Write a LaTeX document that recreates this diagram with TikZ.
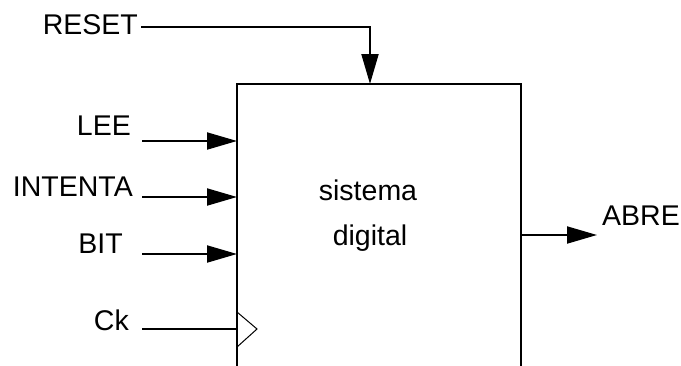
\documentclass[tikz,border=0pt]{standalone}
\usepackage{fontspec}
\setmainfont{Liberation Sans}
\usetikzlibrary{arrows.meta}
\begin{document}
\begin{tikzpicture}[x=1pt,y=-1pt,
 lbl/.style={inner sep=0pt,font=\fontsize{28.5}{34}\selectfont},
 wire/.style={line width=2pt},
 sig/.style={wire,-{Triangle[length=30pt,width=17pt]}},
 clk/.style={line width=1pt,line join=miter}]
\useasboundingbox (0,0) rectangle (681,365);
% system box (open at the bottom, cut by the picture edge)
\coordinate (bl) at (237,367);
\coordinate (tl) at (237,84);
\coordinate (tr) at (521,84);
\coordinate (br) at (521,367);
\draw[wire] (bl) -- (tl) -- (tr) -- (br);
\node[lbl,anchor=base] (sys1) at (368,200) {sistema};
\node[lbl,anchor=base] (sys2) at (370,245) {digital};
% RESET
\node[lbl,anchor=base east] (reset) at (138,34) {RESET};
\coordinate (reset-in) at (141,27);
\coordinate (reset-pin) at (370,84);
\draw[sig] (reset-in) -| (reset-pin);
% LEE
\node[lbl,anchor=base east] (lee) at (131,135) {LEE};
\coordinate (lee-in) at (142,141);
\coordinate (lee-pin) at (237,141);
\draw[sig] (lee-in) -- (lee-pin);
% INTENTA
\node[lbl,anchor=base east] (intenta) at (133,196) {INTENTA};
\coordinate (intenta-in) at (142,197);
\coordinate (intenta-pin) at (237,197);
\draw[sig] (intenta-in) -- (intenta-pin);
% BIT
\node[lbl,anchor=base east] (bit) at (123,253) {BIT};
\coordinate (bit-in) at (142,254);
\coordinate (bit-pin) at (237,254);
\draw[sig] (bit-in) -- (bit-pin);
% Ck
\node[lbl,anchor=base east] (ck) at (129,330) {Ck};
\coordinate (ck-in) at (142,329);
\coordinate (ck-pin) at (237,329);
\draw[wire] (ck-in) -- (ck-pin);
\draw[clk] (237,312) -- (257,329) -- (237,347);
% ABRE
\coordinate (abre-pin) at (521,235);
\node[lbl,anchor=base west] (abre) at (602,225) {ABRE};
\coordinate (abre-out) at (597,235);
\draw[sig] (abre-pin) -- (abre-out);
\end{tikzpicture}
\end{document}
